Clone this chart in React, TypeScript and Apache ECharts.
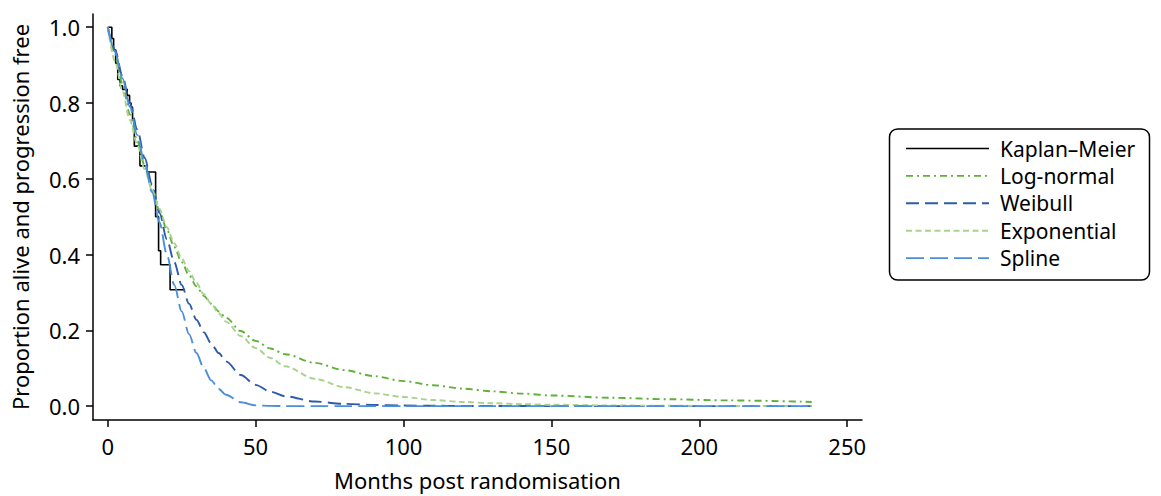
import React, { useEffect, useRef } from "react";
import * as echarts from "echarts";

// Kaplan–Meier step estimate (time in months, proportion alive and progression free)
const kmTimes = [0, 1.4, 2.0, 2.7, 3.4, 4.2, 5.0, 6.6, 7.4, 7.9, 8.4, 9.0, 10.9, 13.2, 16.2, 17.2, 17.9, 21.1, 26.1];
const kmSurv = [1.0, 0.97, 0.94, 0.905, 0.862, 0.845, 0.836, 0.82, 0.8, 0.789, 0.757, 0.686, 0.634, 0.618, 0.5, 0.41, 0.373, 0.307, 0.307];

// Time grid shared by the fitted parametric / spline curves
const fitTimes = [0, 2.5, 5, 7.5, 10, 12.5, 15, 17.5, 20, 22.5, 25, 27.5, 30, 32.5, 35, 37.5, 40, 45, 50, 55, 60, 70, 80, 90, 100, 110, 120, 130, 140, 150, 170, 190, 210, 238];

const logNormal = [1.0, 0.93, 0.85, 0.77, 0.7, 0.635, 0.575, 0.515, 0.465, 0.42, 0.38, 0.345, 0.316, 0.291, 0.27, 0.25, 0.233, 0.198, 0.172, 0.152, 0.137, 0.114, 0.095, 0.079, 0.066, 0.055, 0.046, 0.039, 0.033, 0.028, 0.022, 0.018, 0.015, 0.011];
const weibull = [1.0, 0.94, 0.87, 0.8, 0.73, 0.655, 0.585, 0.51, 0.44, 0.38, 0.32, 0.27, 0.228, 0.195, 0.165, 0.14, 0.118, 0.082, 0.056, 0.038, 0.026, 0.012, 0.006, 0.003, 0.0015, 0.0008, 0.0004, 0.0002, 0.0001, 0, 0, 0, 0, 0];
const exponential = [1.0, 0.91, 0.83, 0.755, 0.69, 0.625, 0.57, 0.52, 0.472, 0.43, 0.39, 0.356, 0.325, 0.295, 0.27, 0.245, 0.223, 0.185, 0.153, 0.127, 0.105, 0.072, 0.05, 0.034, 0.024, 0.016, 0.011, 0.0076, 0.0052, 0.0036, 0.0017, 0.0008, 0.0004, 0.0001];
const spline = [1.0, 0.935, 0.865, 0.79, 0.715, 0.64, 0.565, 0.485, 0.4, 0.32, 0.25, 0.19, 0.14, 0.1, 0.068, 0.045, 0.03, 0.01, 0.002, 0.0005, 0, 0, 0, 0, 0, 0, 0, 0, 0, 0, 0, 0, 0, 0];

const xTicks = [0, 50, 100, 150, 200, 250];
const yTicks = [0, 0.2, 0.4, 0.6, 0.8, 1.0];

const FONT = "Noto Sans";

// Series appearance: name, colour, dash pattern
const seriesStyles = [
  { name: "Kaplan–Meier", color: "#000000", dash: [] as number[], width: 1.6 },
  { name: "Log-normal", color: "#5cb136", dash: [7, 4, 2, 4], width: 1.9 },
  { name: "Weibull", color: "#2d5ba8", dash: [13, 6], width: 1.9 },
  { name: "Exponential", color: "#a9d28e", dash: [6, 3.5], width: 1.9 },
  { name: "Spline", color: "#4a8fd8", dash: [18, 6], width: 1.9 },
];

const pairs = (xs: number[], ys: number[]) => xs.map((x, i) => [x, ys[i]]);

export default function App() {
  const ref = useRef<HTMLDivElement>(null);

  useEffect(() => {
    if (!ref.current) return;
    const chart = echarts.init(ref.current, undefined, { renderer: "svg" });

    const fitLine = (idx: number, data: number[]) => {
      const s = seriesStyles[idx];
      return {
        name: s.name,
        type: "line",
        data: pairs(fitTimes, data),
        showSymbol: false,
        symbol: "none",
        smooth: 0.3,
        smoothMonotone: "x",
        lineStyle: { color: s.color, width: s.width, type: s.dash },
        itemStyle: { color: s.color },
        z: 2,
      };
    };

    // Boxed key on the right: sample line + label per series
    const keyLeft = 906;
    const keyLineEnd = 989;
    const keyTop = 148.5;
    const keyStep = 27.4;
    const keyItems: any[] = [];
    seriesStyles.forEach((s, i) => {
      const y = keyTop + i * keyStep;
      keyItems.push({
        type: "line",
        shape: { x1: keyLeft, y1: y, x2: keyLineEnd, y2: y },
        style: { stroke: s.color, lineWidth: s.width, lineDash: s.dash.length ? s.dash : null },
        z: 5,
      });
      keyItems.push({
        type: "text",
        x: 1000,
        y,
        style: {
          text: s.name,
          fill: "#000",
          fontSize: 21,
          fontFamily: FONT,
          textVerticalAlign: "middle",
          verticalAlign: "middle",
        },
        z: 5,
      });
    });

    chart.setOption({
      animation: false,
      textStyle: { fontFamily: FONT, color: "#000" },
      grid: { left: 93, right: 299, top: 14, bottom: 73 },
      xAxis: {
        type: "value",
        min: -4.97,
        max: 255,
        name: "Months post randomisation",
        nameLocation: "middle",
        nameGap: 49,
        nameTextStyle: { fontSize: 22, color: "#000", fontFamily: FONT },
        axisLine: { show: true, onZero: false, lineStyle: { color: "#000", width: 1.5 } },
        axisTick: { show: true, length: 7, lineStyle: { color: "#000", width: 1.5 }, customValues: xTicks },
        axisLabel: { customValues: xTicks, fontSize: 22, color: "#000", fontFamily: FONT, margin: 15 },
        splitLine: { show: false },
      },
      yAxis: {
        type: "value",
        min: -0.0367,
        max: 1.0348,
        name: "Proportion alive and progression free",
        nameLocation: "middle",
        nameGap: 62,
        nameTextStyle: { fontSize: 22, color: "#000", fontFamily: FONT },
        axisLine: { show: true, onZero: false, lineStyle: { color: "#000", width: 1.5 } },
        axisTick: { show: true, length: 7, lineStyle: { color: "#000", width: 1.5 }, customValues: yTicks },
        axisLabel: {
          customValues: yTicks,
          fontSize: 22,
          color: "#000",
          fontFamily: FONT,
          margin: 13,
          formatter: (v: number) => v.toFixed(1),
        },
        splitLine: { show: false },
      },
      graphic: [
        {
          type: "rect",
          shape: { x: 889.5, y: 129, width: 260, height: 151, r: 8 },
          style: { fill: "#fff", stroke: "#000", lineWidth: 1.5 },
          z: 4,
        },
        ...keyItems,
      ],
      series: [
        {
          name: seriesStyles[0].name,
          type: "line",
          step: "end",
          data: pairs(kmTimes, kmSurv),
          showSymbol: false,
          symbol: "none",
          lineStyle: { color: seriesStyles[0].color, width: seriesStyles[0].width, type: "solid" },
          itemStyle: { color: seriesStyles[0].color },
          z: 1,
        },
        fitLine(1, logNormal),
        fitLine(2, weibull),
        fitLine(3, exponential),
        fitLine(4, spline),
      ],
    });

    return () => chart.dispose();
  }, []);

  return (
    <div
      ref={ref}
      style={{ position: "fixed", left: 0, top: 0, width: 1161, height: 496, background: "#fff" }}
    />
  );
}
